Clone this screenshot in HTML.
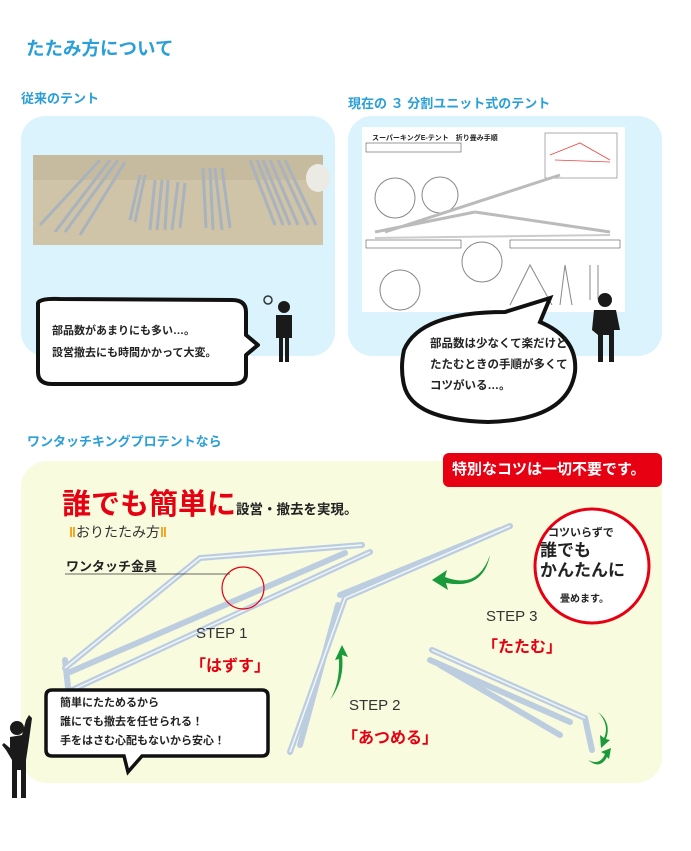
<!DOCTYPE html>
<html><head><meta charset="utf-8"><style>
body{margin:0;width:691px;height:851px;background:#fff;position:relative;overflow:hidden;font-family:"Liberation Sans","Noto Sans CJK JP",sans-serif}
.a{position:absolute;white-space:nowrap}
.blue{color:#2a9fd8;font-weight:bold}
</style></head><body>
<div class="a blue" style="left:26px;top:35px;font-size:18.5px">たたみ方について</div>
<div class="a blue" style="left:21px;top:88px;font-size:13px">従来のテント</div>
<div class="a blue" style="left:348px;top:93px;font-size:13px">現在の ３ 分割ユニット式のテント</div>
<div class="a" style="left:21px;top:116px;width:314px;height:240px;background:#dbf3fc;border-radius:24px"></div>
<div class="a" style="left:348px;top:116px;width:314px;height:240px;background:#dbf3fc;border-radius:24px"></div>
<div class="a blue" style="left:27px;top:431px;font-size:13px">ワンタッチキングプロテントなら</div>
<div class="a" style="left:21px;top:461px;width:641px;height:322px;background:#f9fbdf;border-radius:26px"></div>

<svg class="a" style="left:0;top:0" width="691" height="851">
<rect x="33" y="155" width="290" height="90" fill="#cfc3a8"/>
<rect x="33" y="155" width="290" height="25" fill="#bfb59a" opacity=".6"/>
<g stroke="#a9b3bd" stroke-width="3">
<line x1="40" y1="225" x2="100" y2="160"/><line x1="55" y1="232" x2="110" y2="160"/><line x1="65" y1="232" x2="118" y2="160"/><line x1="80" y1="235" x2="125" y2="162"/>
<line x1="130" y1="220" x2="140" y2="175"/><line x1="135" y1="222" x2="145" y2="175"/><line x1="150" y1="230" x2="155" y2="180"/><line x1="157" y1="230" x2="162" y2="180"/><line x1="165" y1="230" x2="168" y2="180"/><line x1="172" y1="230" x2="178" y2="182"/><line x1="180" y1="228" x2="185" y2="183"/>
<line x1="206" y1="228" x2="203" y2="168"/><line x1="213" y1="230" x2="210" y2="168"/><line x1="222" y1="230" x2="215" y2="168"/><line x1="230" y1="228" x2="222" y2="168"/>
<line x1="275" y1="225" x2="250" y2="160"/><line x1="283" y1="225" x2="257" y2="160"/><line x1="290" y1="225" x2="263" y2="160"/><line x1="298" y1="225" x2="270" y2="160"/><line x1="308" y1="225" x2="278" y2="160"/><line x1="316" y1="225" x2="285" y2="160"/>
</g>
<ellipse cx="318" cy="178" rx="12" ry="14" fill="#eceae4"/>
<rect x="362" y="127" width="263" height="185" fill="#fff"/>
<text x="372" y="140" font-size="7" font-weight="bold" fill="#222">スーパーキングE-テント　折り畳み手順</text>
<rect x="545" y="133" width="72" height="45" fill="none" stroke="#777" stroke-width=".6"/>
<g stroke="#888" fill="none" stroke-width="1">
<circle cx="395" cy="198" r="20"/><circle cx="440" cy="195" r="18"/><circle cx="482" cy="262" r="20"/><circle cx="400" cy="290" r="20"/>
<line x1="385" y1="232" x2="560" y2="175" stroke-width="3" stroke="#bbb"/>
<line x1="375" y1="232" x2="475" y2="212" stroke-width="3" stroke="#bbb"/>
<line x1="475" y1="212" x2="610" y2="232" stroke-width="3" stroke="#bbb"/>
<line x1="375" y1="238" x2="610" y2="235" stroke-width="2" stroke="#ccc"/>
<path d="M510 305 L530 265 L552 305 M560 305 L565 265 L572 305 M590 300 V265 M598 300 V265"/>
</g>
<path d="M550 155 L580 143 L610 160 M555 160 L610 162" stroke="#e44" fill="none" stroke-width=".8"/>
<g fill="none" stroke="#333" stroke-width=".5"><rect x="366" y="143" width="95" height="9"/><rect x="366" y="240" width="95" height="8"/><rect x="510" y="240" width="110" height="8"/></g>
<path d="M38 303 Q40 298 60 299 L232 300 Q246 300 246 312 L246 335 L258 345 L246 355 L246 374 Q246 384 232 384 L52 384 Q38 384 38 372 Z" fill="#fff" stroke="#111" stroke-width="4" stroke-linejoin="round"/>
<g fill="#1a1a1a"><circle cx="284" cy="307" r="6"/><path d="M276 315 H292 V338 H289 V362 H285 V338 H283 V362 H279 V338 H276 Z"/></g>
<circle cx="268" cy="300" r="4" fill="none" stroke="#333" stroke-width="1.5"/>
<path d="M404 350 Q420 312 505 312 L550 298 L540 322 Q578 338 575 372 Q568 420 488 422 Q412 420 404 385 Q400 368 404 350 Z" fill="#fff" stroke="#111" stroke-width="4"/>
<g fill="#1a1a1a"><circle cx="605" cy="300" r="7"/><path d="M594 310 H616 L620 330 H614 V362 H609 V335 H603 V362 H598 V335 L592 330 Z"/></g>
<rect x="443" y="453" width="219" height="34" rx="6" fill="#e60012"/>
<g stroke="#bccde0" stroke-width="6" stroke-linecap="round" fill="none">
<path d="M65 668 L200 558 L362 545"/>
<path d="M70 672 L345 553"/>
<path d="M72 690 L370 552"/>
<path d="M65 660 L70 705"/>
<path d="M510 526 L345 598 L290 752"/>
<path d="M500 530 L340 595"/>
<path d="M338 605 L300 745"/>
<path d="M432 650 L585 718 L592 750"/>
<path d="M430 660 L570 722"/>
<path d="M440 665 L560 735"/>
</g>
<g stroke="#f2f7fc" stroke-width="1.5" fill="none">
<path d="M65 668 L200 558 L362 545"/><path d="M72 690 L370 552"/><path d="M510 526 L345 598 L290 752"/><path d="M432 650 L585 718"/>
</g>
<circle cx="243" cy="588" r="21" fill="none" stroke="#e60012" stroke-width="1.2"/>
<line x1="65" y1="574" x2="230" y2="574" stroke="#333" stroke-width=".8"/>
<g fill="#1a9a3a">
<path d="M490 555 Q478 590 445 577 L447 570 L432 580 L448 590 L446 583 Q483 590 490 555 Z"/>
<path d="M330 700 Q345 680 342 655 L348 657 L342 645 L335 660 L339 659 Q340 683 330 700 Z"/>
<path d="M598 712 Q610 725 604 738 L600 735 L601 748 L610 740 L606 739 Q612 723 598 712Z"/>
<path d="M588 760 Q600 766 605 754 L601 752 L611 748 L609 759 L607 757 Q600 770 588 760Z"/>
</g>
<circle cx="592" cy="566" r="57" fill="#fff" stroke="#e60012" stroke-width="3"/>
<path d="M52 690 H262 Q268 690 268 696 V750 Q268 756 262 756 H142 L128 772 L124 756 H52 Q46 756 46 750 V696 Q46 690 52 690 Z" fill="#fff" stroke="#111" stroke-width="3.5"/>
<g fill="#1a1a1a"><circle cx="17" cy="728" r="7"/><path d="M10 737 L22 735 L26 720 L29 715 L32 718 L29 740 L26 760 V798 H21 V770 H17 V798 H12 V760 L6 750 L2 745 L4 743 L10 748 Z"/></g>
</svg>

<div class="a" style="left:52px;top:320px;font-size:11px;font-weight:bold;line-height:22px;color:#222">部品数があまりにも多い…。<br>設営撤去にも時間かかって大変。</div>
<div class="a" style="left:430px;top:334px;font-size:11.5px;font-weight:bold;line-height:21px;color:#222">部品数は少なくて楽だけど<br>たたむときの手順が多くて<br>コツがいる…。</div>
<div class="a" style="left:452px;top:458px;font-size:15px;font-weight:bold;color:#fff">特別なコツは一切不要です。</div>
<div class="a" style="left:62px;top:481px;color:#e60012;font-size:29px;font-weight:bold">誰でも簡単に<span style="color:#222;font-size:13.5px">設営・撤去を実現。</span></div>
<div class="a" style="left:69px;top:522px;font-size:14px;color:#333"><span style="color:#f39800;font-weight:bold">‖</span>おりたたみ方<span style="color:#f39800;font-weight:bold">‖</span></div>
<div class="a" style="left:66px;top:556px;font-size:13px;font-weight:bold;color:#222">ワンタッチ金具</div>
<div class="a" style="left:196px;top:625px;font-size:15px;color:#333">STEP 1</div>
<div class="a" style="left:190px;top:652px;font-size:16px;font-weight:bold;color:#e60012">「はずす」</div>
<div class="a" style="left:349px;top:697px;font-size:15px;color:#333">STEP 2</div>
<div class="a" style="left:342px;top:724px;font-size:16px;font-weight:bold;color:#e60012">「あつめる」</div>
<div class="a" style="left:486px;top:608px;font-size:15px;color:#333">STEP 3</div>
<div class="a" style="left:482px;top:633px;font-size:16px;font-weight:bold;color:#e60012">「たたむ」</div>
<div class="a" style="left:548px;top:524px;font-size:11px;font-weight:bold;color:#222">コツいらずで</div>
<div class="a" style="left:540px;top:541px;font-size:17px;font-weight:bold;color:#222;line-height:20px">誰でも<br>かんたんに</div>
<div class="a" style="left:560px;top:590px;font-size:10px;font-weight:bold;color:#222">畳めます。</div>
<div class="a" style="left:60px;top:694px;font-size:11px;font-weight:bold;line-height:19px;color:#222">簡単にたためるから<br>誰にでも撤去を任せられる！<br>手をはさむ心配もないから安心！</div>
</body></html>
